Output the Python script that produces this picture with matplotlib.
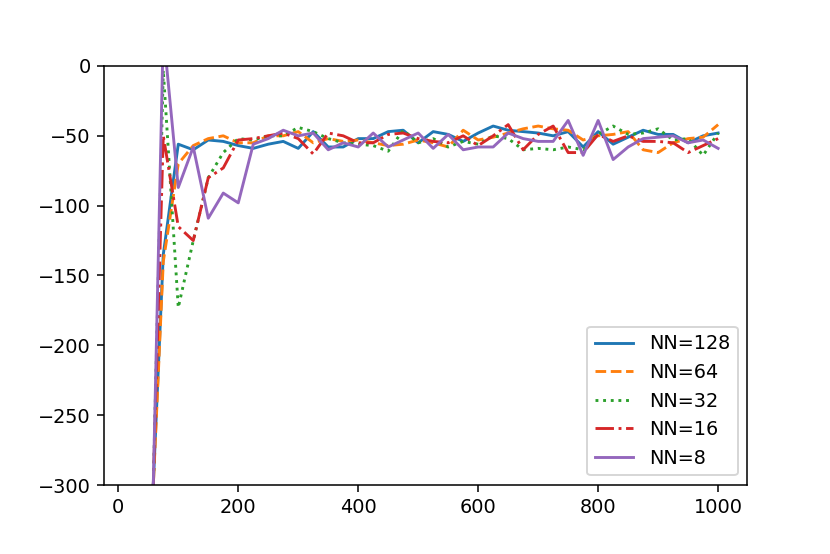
import numpy as np
import matplotlib.pyplot as plt

# episodes (every 25)
episodes = np.arange(25, 1001, 25)

nn128 = [-560, -382, -135, -56, -60, -53, -54, -57, -59, -56,
         -54, -59, -47, -58, -58, -52, -52, -47, -46, -55,
         -47, -49, -54, -48, -43, -46, -47, -48, -50, -47,
         -58, -47, -56, -51, -46, -49, -49, -55, -50, -48]
nn64 = [-560, -382, -140, -70, -57, -52, -50, -55, -55, -50,
        -50, -47, -55, -52, -54, -53, -55, -57, -56, -53,
        -55, -58, -46, -53, -51, -48, -45, -43, -45, -46,
        -53, -50, -49, -47, -60, -62, -55, -52, -51, -42]
nn32 = [-600, -449, -3, -173, -125, -80, -62, -52, -53, -50,
        -50, -44, -47, -52, -55, -56, -57, -61, -46, -55,
        -52, -58, -54, -56, -50, -52, -60, -59, -60, -58,
        -60, -49, -43, -49, -48, -45, -53, -52, -64, -48]
nn16 = [-600, -425, -50, -115, -125, -80, -73, -53, -52, -50,
        -48, -52, -63, -48, -50, -55, -55, -49, -48, -52,
        -54, -55, -50, -57, -50, -42, -60, -49, -43, -62,
        -62, -49, -54, -50, -54, -54, -55, -62, -57, -52]
nn8 = [-620, -462, 25, -87, -58, -109, -91, -98, -56, -52,
       -46, -50, -48, -60, -55, -58, -48, -58, -53, -48,
       -59, -49, -60, -58, -58, -48, -52, -54, -54, -39,
       -64, -39, -67, -58, -52, -51, -50, -55, -53, -59]

fig = plt.figure(figsize=(6, 4.003), dpi=138.4)
ax = fig.add_axes([0.1253, 0.1245, 0.9 - 0.1253, 0.8809 - 0.1245])

ax.plot(episodes, nn128, '-', label='NN=128')
ax.plot(episodes, nn64, '--', label='NN=64')
ax.plot(episodes, nn32, ':', label='NN=32')
ax.plot(episodes, nn16, '-.', label='NN=16')
ax.plot(episodes, nn8, '-', label='NN=8')

ax.set_ylim(-300, 0)
ax.legend(loc='lower right')

plt.savefig('out.png', dpi=138.4)
